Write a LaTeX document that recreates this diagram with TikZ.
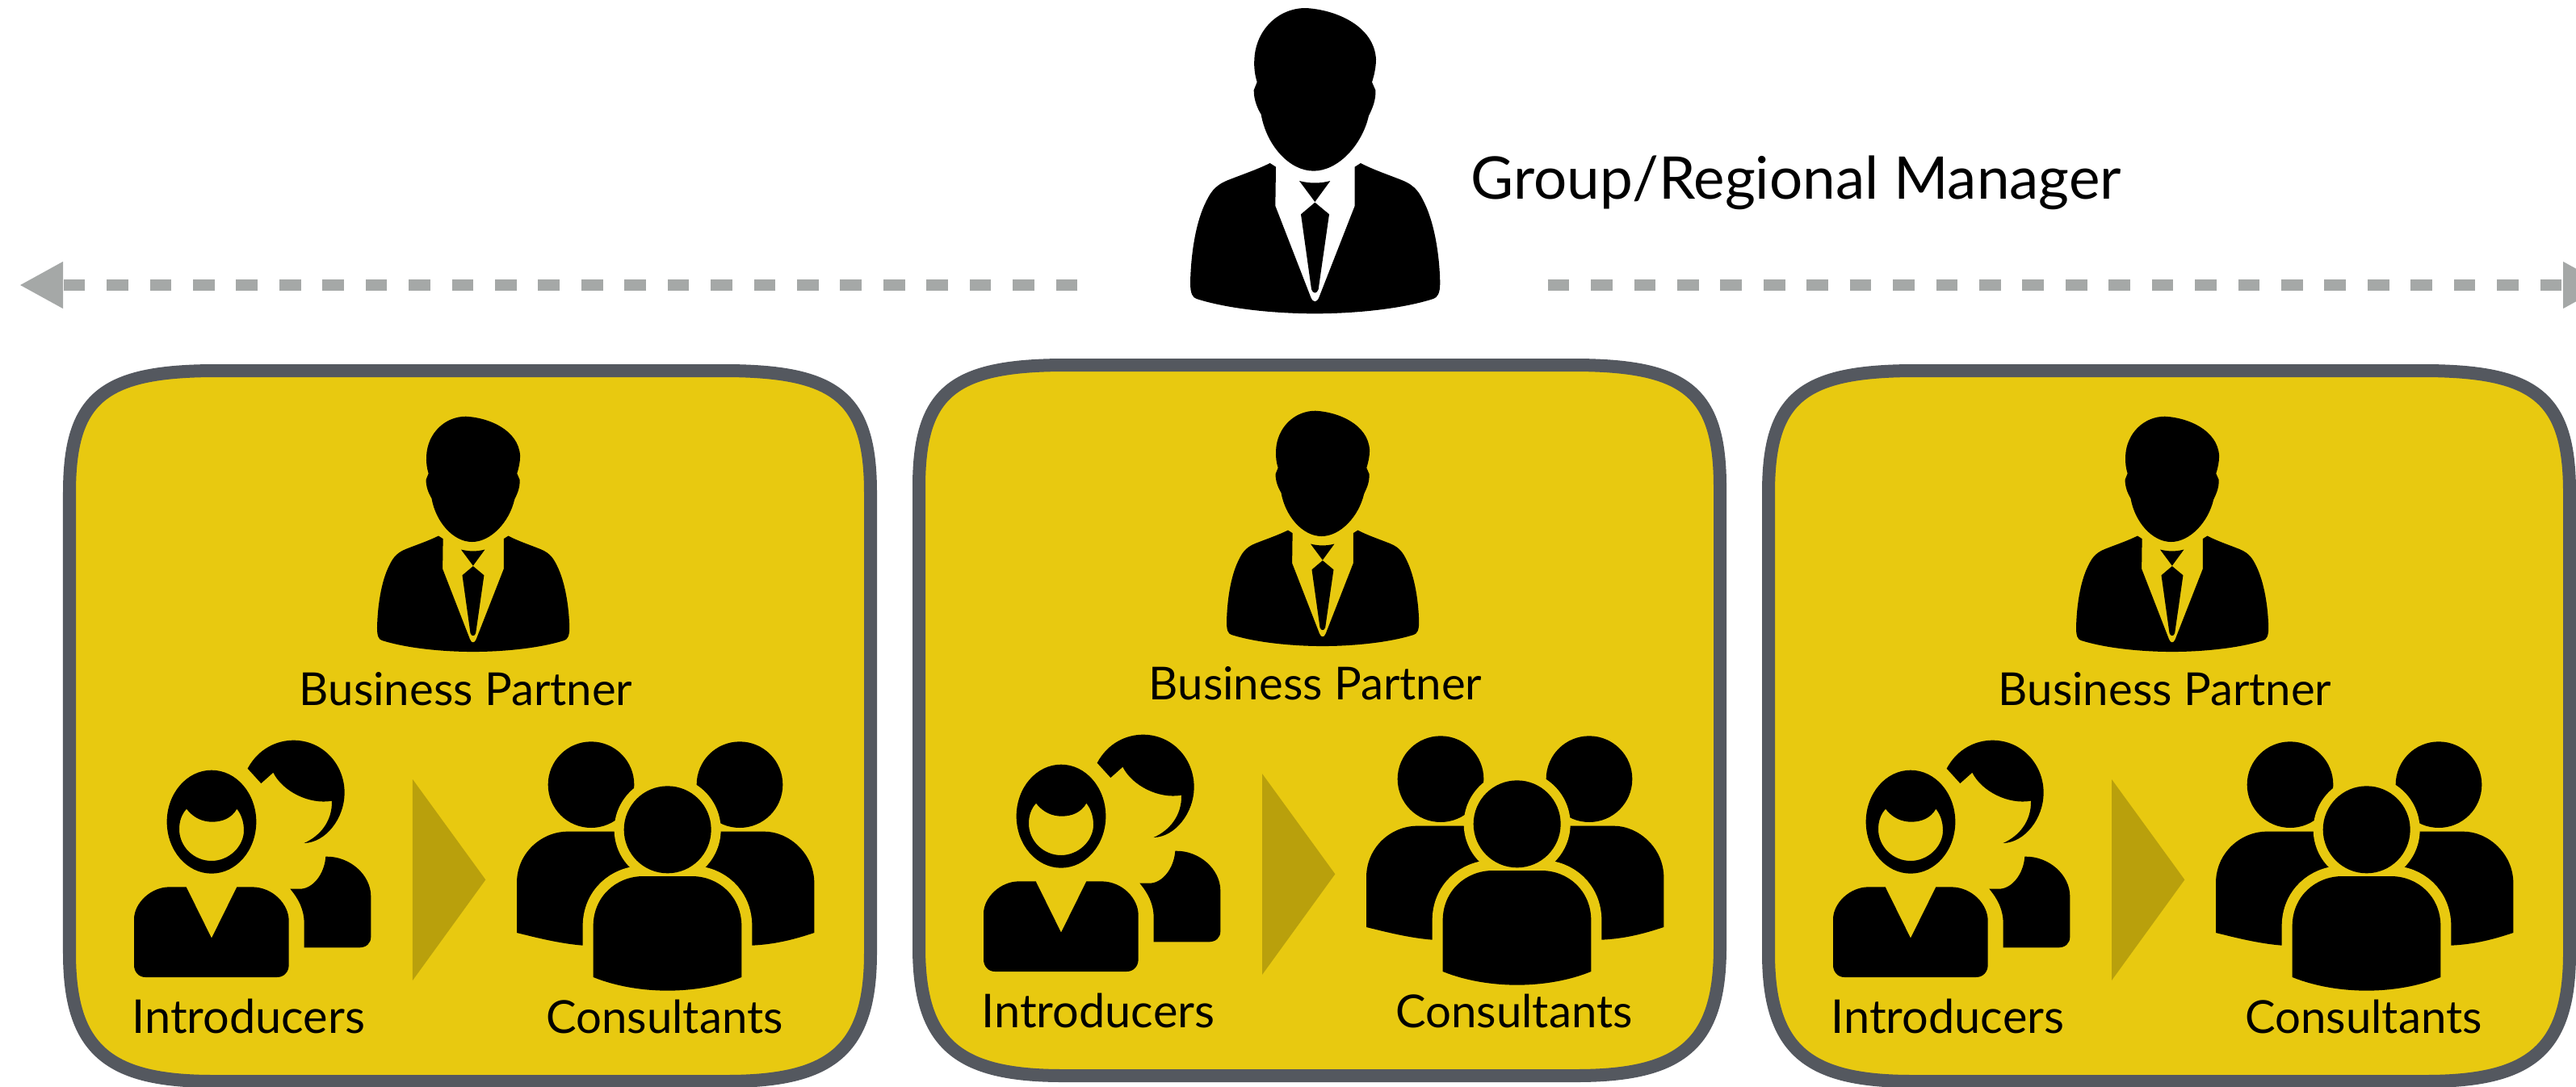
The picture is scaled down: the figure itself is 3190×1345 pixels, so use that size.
\documentclass[tikz,border=0pt]{standalone}
\usepackage{fontspec}
\setmainfont{Lato}
\usepackage{xcolor}
\usepackage{tikz}
\usetikzlibrary{arrows.meta}

\definecolor{boxyellow}{HTML}{E8C910}
\definecolor{boxedge}{HTML}{54585F}
\definecolor{arrowgrey}{HTML}{A5A8A7}
\definecolor{chevron}{HTML}{B9A00C}

\tikzset{
    teambox/.style = {draw = boxedge, fill = boxyellow, line width = 0.16cm},
    halo/.style = {preaction = {draw = boxyellow, line width = 0.26cm}},
    reach/.style = {draw = arrowgrey, line width = 0.14cm, dash pattern = on 0.267cm off 0.267cm,
        -{Triangle[length = 0.54cm, width = 0.54cm, fill = arrowgrey]}},
    caption/.style = {anchor = base, font = \fontsize{16}{18}\selectfont, inner sep = 0pt},
    manager/.pic = {
        % head
        \fill (650, 30) .. controls (760, 35) and (905, 95) .. (912, 220)
            .. controls (912, 250) and (905, 280) .. (897, 305)
            -- (910, 335) .. controls (912, 370) and (900, 400) .. (885, 430)
            .. controls (860, 540) and (770, 635) .. (680, 635)
            .. controls (590, 635) and (505, 540) .. (485, 425)
            .. controls (470, 400) and (458, 370) .. (458, 335)
            -- (470, 305) .. controls (462, 280) and (458, 250) .. (460, 220)
            .. controls (465, 110) and (550, 30) .. (650, 30) -- cycle;
        % jacket
        \fill (518, 606) -- (540, 620) -- (538, 765) -- (670, 1105)
            .. controls (678, 1125) and (692, 1125) .. (700, 1105)
            -- (833, 765) -- (833, 620) -- (855, 606)
            .. controls (900, 630) and (960, 650) .. (1010, 670)
            .. controls (1060, 690) and (1075, 720) .. (1090, 750)
            .. controls (1130, 830) and (1148, 950) .. (1150, 1050)
            .. controls (1150, 1090) and (1140, 1105) .. (1125, 1110)
            .. controls (1000, 1150) and (820, 1165) .. (685, 1165)
            .. controls (550, 1165) and (370, 1150) .. (245, 1110)
            .. controls (230, 1105) and (222, 1090) .. (222, 1050)
            .. controls (224, 950) and (240, 830) .. (280, 750)
            .. controls (295, 720) and (310, 690) .. (360, 670)
            .. controls (410, 650) and (470, 630) .. (518, 606) -- cycle;
        % tie
        \fill (627, 672) .. controls (665, 682) and (705, 682) .. (742, 672) -- (685, 750) -- cycle;
        \fill (685, 752) -- (738, 796) -- (698, 1075) .. controls (692, 1092) and (678, 1092) .. (672, 1075)
            -- (633, 796) -- cycle;
    }
}

\begin{document}
\begin{tikzpicture}[x = 0.01cm, y = -0.01cm]
        \useasboundingbox (0, 0) rectangle (3190, 1345);

        \coordinate (leftfrom) at (1334.3, 353);
        \coordinate (leftto) at (24, 353);
        \coordinate (rightfrom) at (1916.7, 353);
        \coordinate (rightto) at (3228, 353);
        \draw[reach] (leftfrom) -- (leftto);
        \draw[reach] (rightfrom) -- (rightto);

        \pic[scale = 1/3] at (1400, 0) {manager};
        \node[caption, anchor = base west, font = \fontsize{20.7}{24}\selectfont] (regional) at (1821, 246) {Group/Regional Manager};

        \foreach \dx/\dy/\nm in {0/0/a, 1052/-7/b, 2104/0/c} {
            \begin{scope}[shift = {(\dx, \dy)}]
                \path[teambox] (86, 610) .. controls (86, 492) and (128, 459) .. (268, 459)
                    -- (896, 459) .. controls (1036, 459) and (1078, 492) .. (1078, 610)
                    -- (1078, 1180) .. controls (1078, 1300) and (1030, 1339) .. (900, 1339)
                    -- (264, 1339) .. controls (134, 1339) and (86, 1300) .. (86, 1180) -- cycle;

                \pic[scale = 0.2567] at (410, 508) {manager};
                \node[caption] (partner\nm) at (577, 873) {Business Partner};

                % introducers
                \begin{scope}[shift = {(130, 880)}, scale = 1/3]
                    \fill (530, 215) .. controls (570, 140) and (640, 110) .. (700, 110)
                        .. controls (810, 110) and (890, 200) .. (890, 305)
                        .. controls (890, 400) and (820, 490) .. (740, 492)
                        .. controls (800, 465) and (845, 410) .. (843, 335)
                        .. controls (760, 350) and (660, 300) .. (625, 230) -- (580, 270) -- cycle;
                    \fill (820, 542) .. controls (910, 540) and (988, 610) .. (988, 690)
                        -- (988, 840) .. controls (988, 865) and (970, 880) .. (945, 880)
                        -- (740, 880) -- (740, 790) .. controls (740, 740) and (720, 700) .. (688, 662)
                        -- (725, 662) .. controls (770, 662) and (815, 610) .. (820, 542) -- cycle;
                    \fill[even odd rule] (396, 413) ellipse (166 and 192)
                        (303, 365) .. controls (330, 400) and (365, 413) .. (398, 413)
                        .. controls (435, 413) and (470, 400) .. (490, 365)
                        .. controls (510, 390) and (516, 420) .. (516, 445)
                        .. controls (516, 505) and (460, 558) .. (396, 558)
                        .. controls (330, 558) and (276, 505) .. (276, 440)
                        .. controls (276, 410) and (285, 385) .. (303, 365) -- cycle;
                    \fill (302, 655) -- (396, 845) -- (490, 655) -- (545, 655)
                        .. controls (625, 655) and (683, 720) .. (683, 780) -- (683, 945)
                        .. controls (683, 970) and (665, 990) .. (640, 990) -- (150, 990)
                        .. controls (125, 990) and (108, 970) .. (108, 945) -- (108, 775)
                        .. controls (108, 715) and (170, 655) .. (240, 655) -- cycle;
                    \fill[chevron] (1143, 255) -- (1414, 628) -- (1143, 1002) -- cycle;
                \end{scope}
                \node[caption, anchor = base west, font = \fontsize{16.4}{18}\selectfont] (intro\nm) at (163, 1279) {Introducers};

                % consultants
                \begin{scope}[shift = {(600, 880)}, scale = 1/3]
                    \fill (396, 275) circle (160);
                    \fill (948, 275) circle (160);
                    \fill (120, 825) -- (120, 640) .. controls (120, 530) and (210, 449) .. (310, 449)
                        -- (600, 449) -- (600, 872) -- (364, 872)
                        .. controls (280, 865) and (200, 845) .. (120, 825) -- cycle;
                    \fill (1225, 825) -- (1225, 640) .. controls (1225, 530) and (1130, 449) .. (1040, 449)
                        -- (760, 449) -- (760, 872) -- (995, 872)
                        .. controls (1080, 868) and (1150, 850) .. (1225, 825) -- cycle;
                    \fill[boxyellow] (680, 442) circle (198);
                    \fill[halo] (404, 990) -- (404, 800) .. controls (404, 690) and (490, 615) .. (590, 615)
                        -- (770, 615) .. controls (870, 615) and (955, 690) .. (955, 800)
                        -- (955, 990) .. controls (870, 1025) and (770, 1040) .. (680, 1040)
                        .. controls (590, 1040) and (490, 1025) .. (404, 990) -- cycle;
                    \fill (680, 442) circle (162);
                \end{scope}
                \node[caption] (consult\nm) at (823, 1279) {Consultants};
            \end{scope}
        }
\end{tikzpicture}
\end{document}
